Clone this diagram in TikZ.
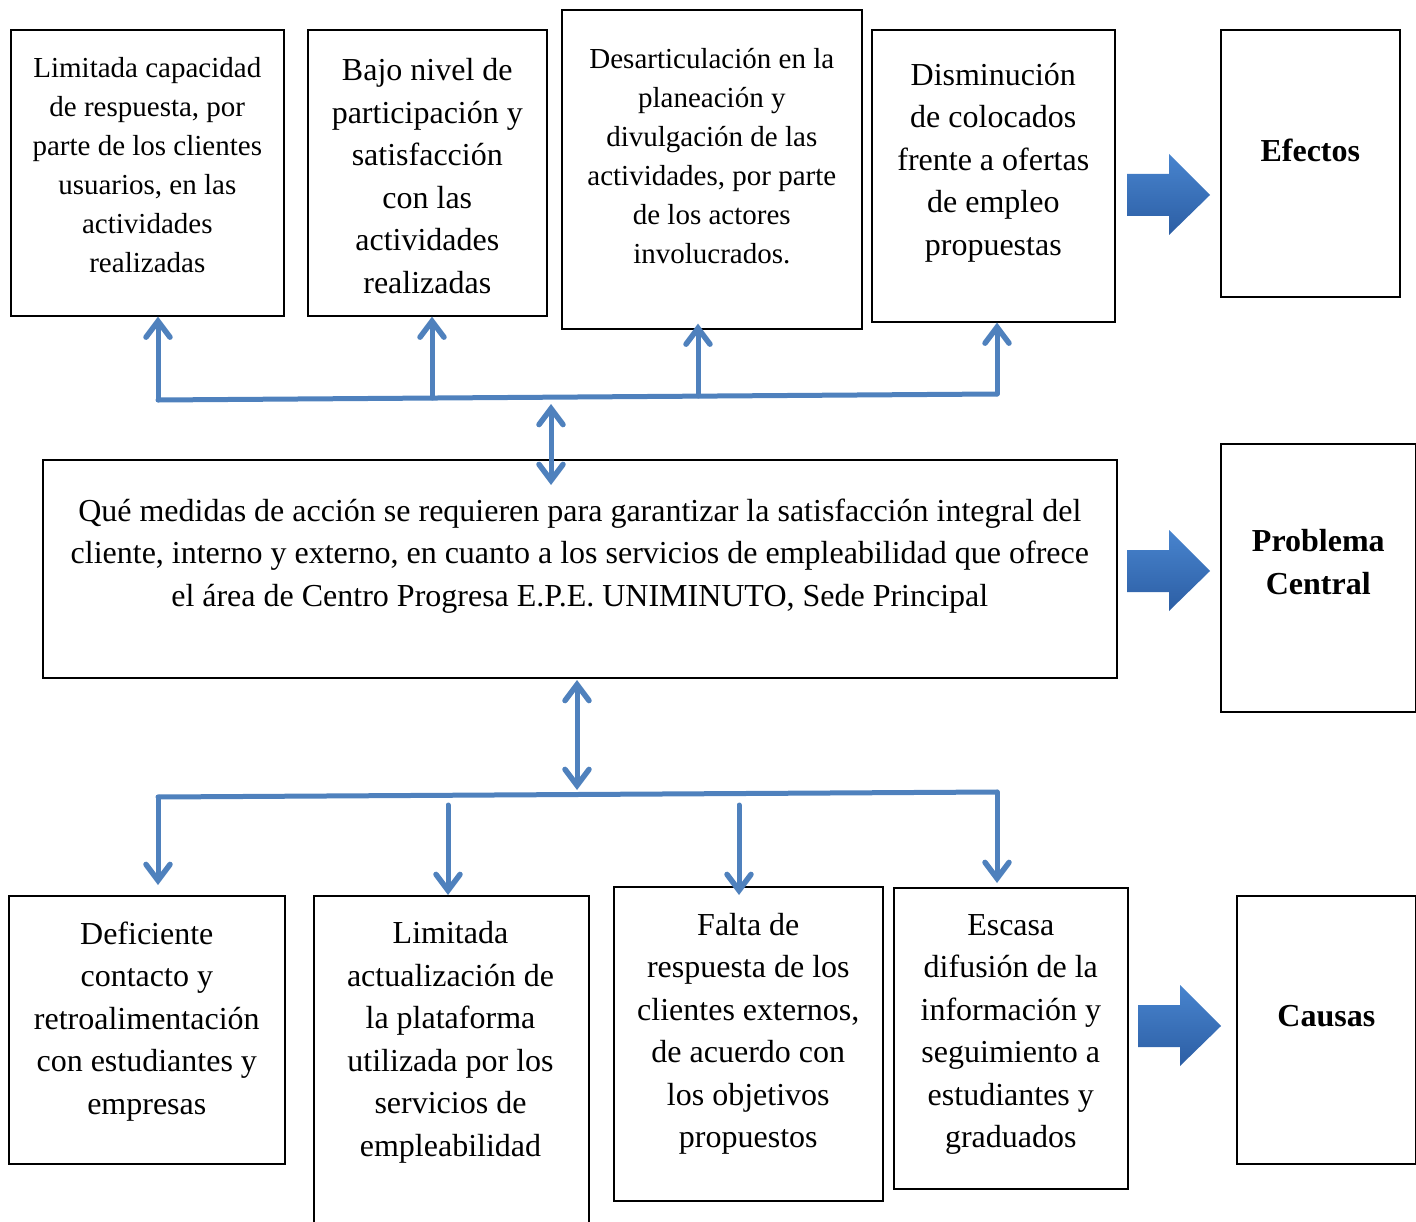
\documentclass[tikz,border=0pt]{standalone}
\usepackage{fontspec}
\setmainfont{Liberation Serif}
\usetikzlibrary{arrows.meta,calc}
\definecolor{linkblue}{RGB}{79,129,189}
\definecolor{arrowtop}{RGB}{72,132,206}
\definecolor{arrowbot}{RGB}{44,94,164}
\tikzset{
	box/.style={draw, line width=1.6pt, inner sep=0pt, anchor=north west},
	smalltxt/.style={align=center, inner sep=0pt, yshift=-2pt, font=\fontsize{29}{39}\selectfont},
	bigtxt/.style={align=center, inner sep=0pt, yshift=-3pt, font=\fontsize{32}{42.5}\selectfont},
	headtxt/.style={align=center, inner sep=0pt, yshift=-1pt, font=\fontsize{32}{43}\selectfont\bfseries},
	link/.style={draw=linkblue, line width=5pt, line cap=round,
		>={Straight Barb[length=16pt, width=24pt, line width=5.5pt, line cap=round]}},
	blockarrow/.style={top color=arrowtop, bottom color=arrowbot, draw=none}
}
\begin{document}
\begin{tikzpicture}[x=1pt,y=-1pt]
	\useasboundingbox (0,0) rectangle (1416,1222);
	% efectos
	\node[box, minimum width=273pt, minimum height=286pt] (e1) at (10,29) {};
	\node[box, minimum width=239pt, minimum height=286pt] (e2) at (307,29) {};
	\node[box, minimum width=300pt, minimum height=319pt] (e3) at (561,9) {};
	\node[box, minimum width=243pt, minimum height=292pt] (e4) at (871,29) {};
	\node[box, minimum width=179pt, minimum height=267pt] (efe) at (1220,29) {};
	\node[smalltxt] (e1t) at (e1.center |- 0,163) {Limitada capacidad\\de respuesta, por\\parte de los clientes\\usuarios, en las\\actividades\\realizadas};
	\node[bigtxt] (e2t) at (e2.center |- 0,173) {Bajo nivel de\\participación y\\satisfacción\\con las\\actividades\\realizadas};
	\node[smalltxt] (e3t) at (e3.center |- 0,154) {Desarticulación en la\\planeación y\\divulgación de las\\actividades, por parte\\de los actores\\involucrados.};
	\node[bigtxt] (e4t) at (e4.center |- 0,159.5) {Disminución\\de colocados\\frente a ofertas\\de empleo\\propuestas};
	\node[headtxt] (efet) at (efe.center |- 0,149) {Efectos};
	% problema central
	\node[box, minimum width=1074pt, minimum height=218pt] (cen) at (42,459) {};
	\node[box, minimum width=195pt, minimum height=268pt] (pro) at (1220,443) {};
	\node[bigtxt] (cent) at (cen.center |- 0,553) {Qué medidas de acción se requieren para garantizar la satisfacción integral del\\cliente, interno y externo, en cuanto a los servicios de empleabilidad que ofrece\\el área de Centro Progresa E.P.E. UNIMINUTO, Sede Principal};
	\node[headtxt] (prot) at (pro.center |- 0,561.5) {Problema\\Central};
	% causas
	\node[box, minimum width=276pt, minimum height=268pt] (c1) at (8,895) {};
	\node[box, minimum width=275pt, minimum height=360pt] (c2) at (313,895) {};
	\node[box, minimum width=269pt, minimum height=314pt] (c3) at (613,886) {};
	\node[box, minimum width=234pt, minimum height=301pt] (c4) at (893,887) {};
	\node[box, minimum width=179pt, minimum height=268pt] (cau) at (1236,895) {};
	\node[bigtxt] (c1t) at (c1.center |- 0,1018.5) {Deficiente\\contacto y\\retroalimentación\\con estudiantes y\\empresas};
	\node[bigtxt] (c2t) at (450.5,1039.5) {Limitada\\actualización de\\la plataforma\\utilizada por los\\servicios de\\empleabilidad};
	\node[bigtxt] (c3t) at (c3.center |- 0,1031) {Falta de\\respuesta de los\\clientes externos,\\de acuerdo con\\los objetivos\\propuestos};
	\node[bigtxt] (c4t) at (c4.center |- 0,1031.5) {Escasa\\difusión de la\\información y\\seguimiento a\\estudiantes y\\graduados};
	\node[headtxt] (caut) at (cau.center |- 0,1015) {Causas};
	% flechas de bloque
	\foreach \dx/\dy in {0/0, 0/376, 11/831}
		\shade[blockarrow, shift={(\dx,\dy)}] (1127,174) -- (1169,174) -- (1169,154) -- (1210,195)
			-- (1169,235) -- (1169,216) -- (1127,216) -- cycle;
	% conectores arriba
	\coordinate (ta) at (158,400);
	\coordinate (tb) at (432,398);
	\coordinate (tc) at (698,396);
	\coordinate (td) at (997,394);
	\coordinate (tm) at (551,404);
	\coordinate (tmd) at (551,485);
	\draw[link] (ta) -- (td);
	\foreach \p/\b in {ta/e1, tb/e2, td/e4}
		\draw[link, ->] (\p) -- (\p |- \b.south);
	\draw[link, ->] (tc) -- ($(tc |- e3.south)+(0,-6)$);
	\draw[link, <->] (tm) -- (tmd);
	% conectores abajo
	\coordinate (bm) at (577,680);
	\coordinate (bmd) at (577,790);
	\coordinate (ba) at (158,797);
	\coordinate (bd) at (997,792);
	\coordinate (bb) at (448,805);
	\coordinate (bc) at (739,805);
	\draw[link, <->] (bm) -- (bmd);
	\draw[link] (ba) -- (bd);
	\draw[link, ->] (ba) -- (158,885);
	\draw[link, ->] (bb) -- (bb |- c2.north);
	\draw[link, ->] (bc) -- (bc |- c2.north);
	\draw[link, ->] (bd) -- (997,883);
\end{tikzpicture}
\end{document}
